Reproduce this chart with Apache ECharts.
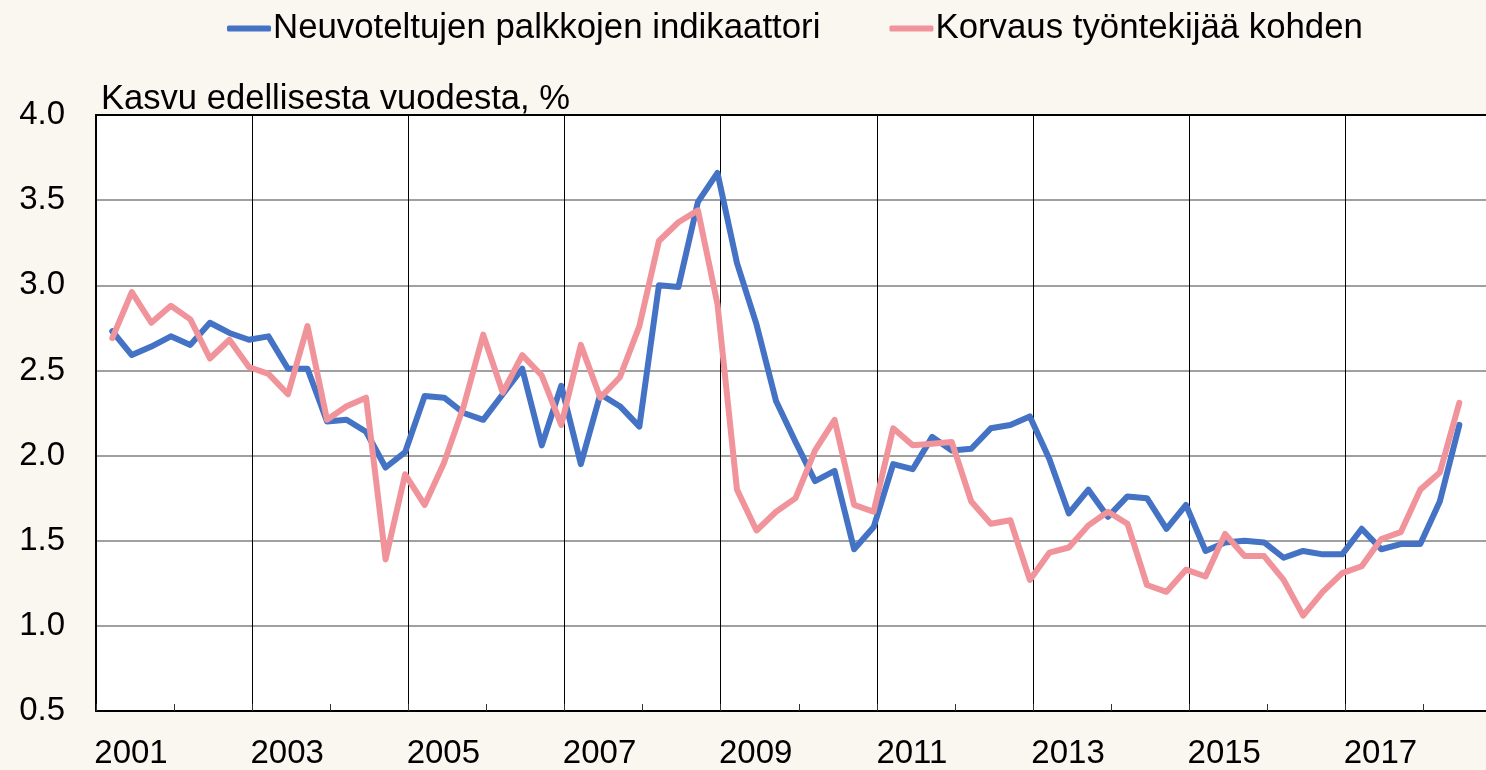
<!DOCTYPE html>
<html>
<head>
<meta charset="utf-8">
<style>
  html, body { margin: 0; padding: 0; background: #FAF6F0; }
  #chart { width: 1486px; height: 770px; }
</style>
<script src="https://cdn.jsdelivr.net/npm/echarts@6/dist/echarts.min.js"></script>
</head>
<body>
<div id="chart"></div>
<script>
// Quarters 2001Q1 .. 2018Q2
const quarters = [];
for (let y = 2001; y <= 2018; y++) {
  for (let q = 1; q <= 4; q++) {
    if (y === 2018 && q > 2) break;
    quarters.push(y + 'Q' + q);
  }
}

// Neuvoteltujen palkkojen indikaattori (%)
const wageIndicator = [
  2.73, 2.59, 2.64, 2.70, 2.65, 2.78, 2.72, 2.68, 2.70, 2.51,
  2.51, 2.20, 2.21, 2.14, 1.93, 2.02, 2.35, 2.34, 2.25, 2.21,
  2.36, 2.51, 2.06, 2.41, 1.95, 2.36, 2.29, 2.17, 3.00, 2.99,
  3.49, 3.66, 3.13, 2.77, 2.32, 2.08, 1.85, 1.91, 1.45, 1.58,
  1.95, 1.92, 2.11, 2.03, 2.04, 2.16, 2.18, 2.23, 1.98, 1.66,
  1.80, 1.64, 1.76, 1.75, 1.57, 1.71, 1.44, 1.49, 1.50, 1.49,
  1.40, 1.44, 1.42, 1.42, 1.57, 1.45, 1.48, 1.48, 1.73, 2.18
];

// Korvaus työntekijää kohden (%)
const compensation = [
  2.69, 2.96, 2.78, 2.88, 2.80, 2.57, 2.68, 2.52, 2.48, 2.36,
  2.76, 2.21, 2.29, 2.34, 1.39, 1.89, 1.71, 1.96, 2.29, 2.71,
  2.37, 2.59, 2.47, 2.18, 2.65, 2.34, 2.46, 2.76, 3.26, 3.37,
  3.44, 2.89, 1.80, 1.56, 1.67, 1.75, 2.03, 2.21, 1.71, 1.67,
  2.16, 2.06, 2.07, 2.08, 1.73, 1.60, 1.62, 1.27, 1.43, 1.46,
  1.59, 1.67, 1.60, 1.24, 1.20, 1.33, 1.29, 1.54, 1.41, 1.41,
  1.27, 1.06, 1.20, 1.31, 1.35, 1.51, 1.55, 1.80, 1.90, 2.31
];

const seriesNames = ['Neuvoteltujen palkkojen indikaattori', 'Korvaus työntekijää kohden'];
const axisTitle = 'Kasvu edellisesta vuodesta, %';

const X_MIN = 2001;
const X_MAX = 2018.8;

// quarter -> time position (middle of the quarter's last month)
function qPos(label) {
  const y = parseInt(label.slice(0, 4), 10);
  const q = parseInt(label.slice(5), 10);
  return y + (3 * q - 0.5) / 12;
}
const toPairs = vals => vals.map((v, i) => [qPos(quarters[i]), v]);

const FONT = '"Liberation Sans", Arial, sans-serif';
const chart = echarts.init(document.getElementById('chart'), null, { renderer: 'canvas' });

const gridLeft = 96, gridRight = 0;

chart.setOption({
  backgroundColor: '#FAF6F0',
  animation: false,
  textStyle: { fontFamily: FONT },
  title: {
    text: axisTitle,
    left: 96,
    top: 77,
    textStyle: { fontSize: 34.6, fontWeight: 'normal', color: '#000', fontFamily: FONT }
  },
  legend: {
    top: 6,
    left: 222,
    itemWidth: 44,
    itemHeight: 6,
    itemGap: 69,
    icon: 'roundRect',
    textStyle: { fontSize: 34.8, color: '#000', fontFamily: FONT, padding: [0, 0, 0, -3] },
    data: seriesNames
  },
  grid: {
    left: gridLeft,
    right: gridRight,
    top: 115,
    bottom: 58,
    show: true,
    backgroundColor: '#FFFFFF',
    borderWidth: 0,
    containLabel: false
  },
  xAxis: [
    {
      type: 'value', min: X_MIN, max: X_MAX, interval: 1,
      axisLine: { show: true, lineStyle: { color: '#000', width: 2 } },
      axisTick: { show: true, inside: true, length: 7, lineStyle: { color: '#333', width: 1 } },
      axisLabel: { show: false },
      splitLine: { show: false }
    },
    {
      type: 'value', min: X_MIN, max: X_MAX, interval: 2, position: 'top',
      axisLine: { show: true, lineStyle: { color: '#000', width: 2 } },
      axisTick: { show: false }, axisLabel: { show: false },
      splitLine: { show: true, showMinLine: false, showMaxLine: false,
        lineStyle: { color: '#000', width: 1 } }
    },
    {
      type: 'value', min: X_MIN, max: X_MAX, interval: 2, position: 'bottom',
      axisLine: { show: false }, axisTick: { show: false },
      splitLine: { show: false },
      axisLabel: {
        fontSize: 33, color: '#000', margin: 26, fontFamily: FONT,
        showMaxLabel: false,
        padding: [0, 0, 0, 70],
        formatter: v => (Math.abs(v - Math.round(v)) < 1e-6 ? String(Math.round(v)) : '')
      }
    }
  ],
  yAxis: {
    type: 'value', min: 0.5, max: 4, interval: 0.5,
    axisLine: { show: true, lineStyle: { color: '#000', width: 2 } },
    axisTick: { show: false },
    axisLabel: { fontSize: 33, color: '#000', margin: 31, fontFamily: FONT,
      formatter: v => v.toFixed(1) },
    splitLine: { show: true, lineStyle: { color: '#808080', width: 1.5 } }
  },
  series: [
    {
      name: seriesNames[0], type: 'line', xAxisIndex: 0,
      data: toPairs(wageIndicator), symbol: 'none',
      color: '#4472C4',
      lineStyle: { color: '#4472C4', width: 6, join: 'round', cap: 'round' }
    },
    {
      name: seriesNames[1], type: 'line', xAxisIndex: 0,
      data: toPairs(compensation), symbol: 'none',
      color: '#F1939A',
      lineStyle: { color: '#F1939A', width: 6, join: 'round', cap: 'round' }
    }
  ]
});
</script>
</body>
</html>
